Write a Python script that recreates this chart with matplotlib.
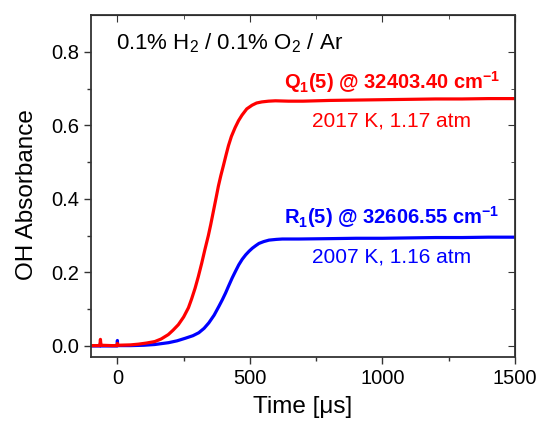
import numpy as np
import matplotlib.pyplot as plt

plt.rcParams['font.family'] = ['Liberation Sans', 'DejaVu Sans']
plt.rcParams['mathtext.fontset'] = 'custom'
plt.rcParams['mathtext.rm'] = 'Liberation Sans'
plt.rcParams['mathtext.it'] = 'Liberation Sans'
plt.rcParams['mathtext.bf'] = 'Liberation Sans:bold'

t_red = [-100, -66, -65, -64, -63, -62, -20, -1, 0, 1, 50, 80, 110, 141, 165, 192,
         210, 230, 250, 268, 280, 293, 305, 318, 330, 343, 352, 362, 372, 381,
         390, 400, 410, 419, 430, 444, 457, 470, 488, 508, 525, 545, 570, 596,
         646, 700, 800, 900, 1000, 1100, 1200, 1300, 1400, 1500]
a_red = [0.001, 0.001, 0.010, 0.018, 0.010, 0.002, 0.001, 0.001, 0.007, 0.002,
         0.003, 0.005, 0.008, 0.012, 0.019, 0.031, 0.043, 0.058, 0.079, 0.104,
         0.128, 0.157, 0.188, 0.225, 0.262, 0.300, 0.330, 0.366, 0.402, 0.435,
         0.463, 0.491, 0.520, 0.545, 0.570, 0.594, 0.613, 0.628, 0.645, 0.655,
         0.661, 0.664, 0.666, 0.667, 0.666, 0.666, 0.668, 0.669, 0.670, 0.671,
         0.672, 0.672, 0.673, 0.673]

t_blue = [-100, -66, -64, -62, -1, 0, 1, 50, 100, 141, 193, 225, 256, 285, 307,
          327, 345, 365, 383, 396, 408, 420, 433, 446, 458, 471, 484, 497, 509,
          522, 534, 552, 572, 600, 622, 685, 800, 900, 1000, 1100, 1200, 1300,
          1400, 1500]
a_blue = [0.000, 0.000, 0.008, 0.000, 0.000, 0.015, 0.001, 0.001, 0.002, 0.004,
          0.009, 0.014, 0.021, 0.028, 0.036, 0.048, 0.063, 0.084, 0.108, 0.126,
          0.144, 0.164, 0.185, 0.204, 0.221, 0.236, 0.248, 0.258, 0.266, 0.273,
          0.279, 0.284, 0.288, 0.290, 0.291, 0.291, 0.292, 0.293, 0.293, 0.294,
          0.295, 0.295, 0.296, 0.296]

fig = plt.figure(figsize=(5.41, 4.21), dpi=100)
ax = fig.add_axes([0.168, 0.152, 0.784, 0.812])

ax.plot(t_blue, a_blue, color='#0000ff', lw=2.3)
ax.plot(t_red, a_red, color='#ff0000', lw=2.3)

ax.set_xlim(-100, 1500)
ax.set_ylim(-0.03, 0.9)
ax.set_xticks([0, 500, 1000, 1500])
ax.set_xticks([250, 750, 1250], minor=True)
ax.set_yticks([0.0, 0.2, 0.4, 0.6, 0.8])
ax.set_yticks([0.1, 0.3, 0.5, 0.7], minor=True)
ax.yaxis.set_major_formatter(plt.FormatStrFormatter('%.1f'))

ax.tick_params(which='both', direction='out', labelsize=14.5, width=1.0, color='#333333')
ax.tick_params(which='major', length=5)
ax.tick_params(which='minor', length=3)
for s in ax.spines.values():
    s.set_linewidth(1.3)
    s.set_color('#333333')

# inward ticks on top and right
top = ax.secondary_xaxis('top')
top.set_xticks([0, 500, 1000, 1500])
top.set_xticks([250, 750, 1250], minor=True)
top.tick_params(which='both', direction='in', labeltop=False, color='#333333')
top.tick_params(which='major', length=5)
top.tick_params(which='minor', length=3)
right = ax.secondary_yaxis('right')
right.set_yticks([0.0, 0.2, 0.4, 0.6, 0.8])
right.set_yticks([0.1, 0.3, 0.5, 0.7], minor=True)
right.tick_params(which='both', direction='in', labelright=False, color='#333333')
right.tick_params(which='major', length=5)
right.tick_params(which='minor', length=3)

ax.set_xlabel('Time [\u03bcs]', fontsize=17.5, labelpad=6)
ax.set_ylabel('OH Absorbance', fontsize=17.5)
ax.yaxis.set_label_coords(-0.125, 0.476)

ax.text(-5, 0.825, r'0.1% H$_2$ / 0.1% O$_2$ / Ar', fontsize=16, ha='left', va='center')
ax.text(1035, 0.717, r'Q$_\mathbf{1}$(5) @ 32403.40 cm$^\mathbf{-1}$', fontsize=14.5,
        fontweight='bold', color='#ff0000', ha='center', va='center')
ax.text(1035, 0.613, '2017 K, 1.17 atm', fontsize=15, color='#ff0000', ha='center', va='center')
ax.text(1035, 0.352, r'R$_\mathbf{1}$(5) @ 32606.55 cm$^\mathbf{-1}$', fontsize=14.5,
        fontweight='bold', color='#0000ff', ha='center', va='center')
ax.text(1035, 0.241, '2007 K, 1.16 atm', fontsize=15, color='#0000ff', ha='center', va='center')

fig.savefig('out.png', dpi=100)
